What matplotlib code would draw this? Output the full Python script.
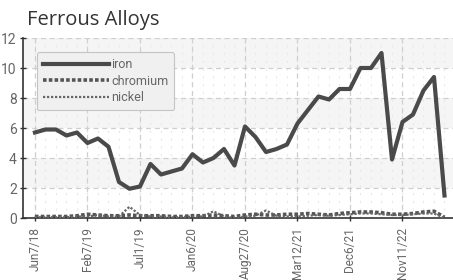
import matplotlib
matplotlib.use("Agg")
import matplotlib.pyplot as plt
import numpy as np

# data (one point per sample, labels every 5th)
iron = [5.7, 5.9, 5.9, 5.5, 5.7, 5.0, 5.3, 4.75, 2.4, 1.95,
        2.1, 3.6, 2.9, 3.1, 3.3, 4.25, 3.7, 4.0, 4.6, 3.5,
        6.1, 5.4, 4.4, 4.6, 4.9, 6.3, 7.2, 8.1, 7.9, 8.6,
        8.6, 10.0, 10.0, 11.0, 3.9, 6.4, 6.9, 8.5, 9.4, 1.5]
chromium = [0.1, 0.1, 0.1, 0.1, 0.15, 0.25, 0.2, 0.15, 0.15, 0.2,
            0.15, 0.15, 0.15, 0.1, 0.1, 0.15, 0.15, 0.2, 0.15, 0.1,
            0.2, 0.25, 0.2, 0.2, 0.25, 0.25, 0.3, 0.25, 0.2, 0.3,
            0.35, 0.4, 0.4, 0.35, 0.25, 0.25, 0.3, 0.4, 0.45, 0.05]
nickel = [0.05, 0.05, 0.05, 0.05, 0.1, 0.1, 0.2, 0.1, 0.1, 0.75,
          0.2, 0.1, 0.1, 0.05, 0.05, 0.1, 0.1, 0.45, 0.1, 0.0,
          0.1, 0.15, 0.5, 0.15, 0.1, 0.1, 0.15, 0.2, 0.15, 0.2,
          0.25, 0.3, 0.3, 0.25, 0.2, 0.2, 0.25, 0.3, 0.3, 0.0]
tick_idx = [0, 5, 10, 15, 20, 25, 30, 35]
tick_labels = ['Jun7/18', 'Feb7/19', 'Jul1/19', 'Jan6/20',
               'Aug27/20', 'Mar12/21', 'Dec6/21', 'Nov11/22']

narrow = ['Roboto', 'DejaVu Sans']

fig = plt.figure(figsize=(4.53, 2.80), dpi=100)
ax = fig.add_axes([23 / 453, 62 / 280, 430 / 453, 180 / 280])

x = np.arange(len(iron))
ax.set_xlim(-1.14, 39.81)
ax.set_ylim(0, 12)

# light bands and grid
for lo in [2, 6, 10]:
    ax.axhspan(lo, lo + 2, color='#f5f5f5', zorder=0, lw=0)
for i in x:
    ax.axvline(i, color='#e8e8e8', lw=0.8, ls=(0, (2, 5)), zorder=0.5)
for t in tick_idx:
    ax.axvline(t, color='#cfcfcf', lw=0.9, ls=(0, (4, 3)), zorder=0.6)
for v in range(2, 13, 2):
    ax.axhline(v, color='#cfcfcf', lw=0.9, ls=(0, (4, 3)), zorder=0.6)

ax.plot(x, iron, color='#4a4a4a', lw=3, label='iron', zorder=3)
ax.plot(x, chromium, color='#555555', lw=2.6, ls=(0, (1, 0.6)),
        label='chromium', zorder=2.5)
ax.plot(x, nickel, color='#666666', lw=1.6, ls=(0, (1, 0.8)),
        label='nickel', zorder=2.6)

ax.set_xticks(tick_idx)
ax.set_xticklabels(tick_labels, rotation=90, family=narrow,
                   fontsize=8.5, color='#666666')
ax.set_yticks(range(0, 13, 2))
ax.set_yticklabels([str(v) for v in range(0, 13, 2)], family=narrow,
                   fontsize=10, color='#666666')
ax.tick_params(axis='both', direction='inout', length=5, width=1,
               color='#333333', pad=2)
ax.tick_params(axis='x', pad=4)
for s in ['top', 'right']:
    ax.spines[s].set_visible(False)
for s in ['left', 'bottom']:
    ax.spines[s].set_color('#333333')
    ax.spines[s].set_linewidth(1.2)

leg = ax.legend(loc='upper left', bbox_to_anchor=(0.018, 0.955),
                prop={'family': narrow, 'size': 9}, labelcolor='#666666',
                handlelength=5.3, handletextpad=0.2, labelspacing=0.3,
                borderpad=0.45, fancybox=True, framealpha=1,
                facecolor='#f0f0f0', edgecolor='#c4c4c4')
leg.get_frame().set_linewidth(0.8)

fig.text(27 / 453, 1 - 25 / 280, 'Ferrous Alloys', family=['Open Sans', 'DejaVu Sans'],
         fontsize=14.5, color='#333333')

fig.savefig('out.png', dpi=100)
